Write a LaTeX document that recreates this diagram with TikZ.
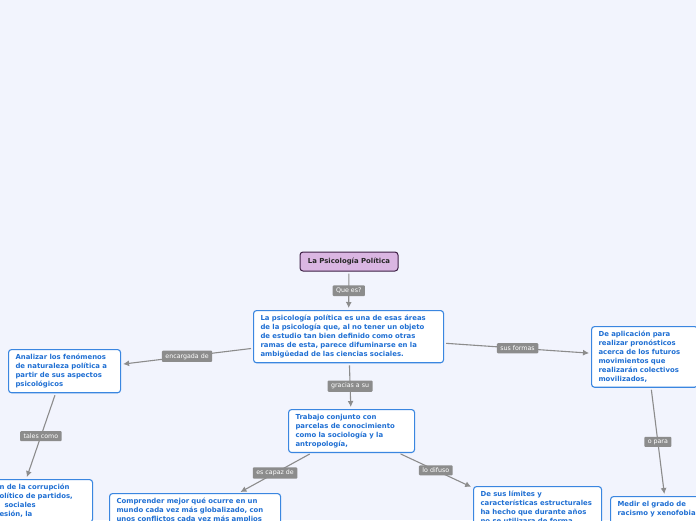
\documentclass[tikz,border=0pt]{standalone}
\usepackage{fontspec}
\usetikzlibrary{arrows.meta}
\newfontfamily\mapfont{DejaVu Sans}
\definecolor{bgblue}{HTML}{F2F4FD}
\definecolor{topicblue}{HTML}{3A86E0}
\definecolor{textblue}{HTML}{1F6FD3}
\definecolor{rootfill}{HTML}{DAB6E2}
\definecolor{rootline}{HTML}{3D1F45}
\definecolor{linkgray}{HTML}{8C8C8C}

\begin{document}
\begin{tikzpicture}[x=1pt,y=-1pt,
  topic/.style={draw=topicblue,fill=white,rounded corners=3pt,line width=1.1pt,
    text=textblue,font=\mapfont\bfseries\fontsize{6.9}{9}\selectfont,
    align=left,inner xsep=7pt,inner ysep=4.6pt,anchor=north west},
  rootbox/.style={draw=rootline,fill=rootfill,rounded corners=3pt,line width=1pt,
    text=black!85,font=\mapfont\bfseries\fontsize{6.9}{9}\selectfont,
    minimum width=98pt,minimum height=19pt},
  link/.style={draw=linkgray,line width=1.1pt,-{Latex[length=6pt,width=6pt]},
    shorten >=2pt,shorten <=2pt},
  tag/.style={fill=linkgray,text=white,font=\mapfont\fontsize{6.3}{7}\selectfont,
    rounded corners=1pt,inner xsep=3.5pt,inner ysep=2.6pt,midway}]
            \useasboundingbox (0,0) rectangle (696,520);
            \clip (0,0) rectangle (696,520);
            \fill[bgblue] (0,0) rectangle (696,520);

            \node[rootbox] (root) at (349,261.5) {La Psicología Política};
            \node[topic,text width=176pt] (main) at (253,310) {La psicología política es una de esas áreas\\de la psicología que, al no tener un objeto\\de estudio tan bien definido como otras\\ramas de esta, parece difuminarse en la\\ambigüedad de las ciencias sociales.};
            \node[topic,text width=98pt] (analizar) at (8,349) {Analizar los fenómenos\\de naturaleza política a\\partir de sus aspectos\\psicológicos};
            \node[topic,text width=112pt] (trabajo) at (288,409) {Trabajo conjunto con\\parcelas de conocimiento\\como la sociología y la\\antropología,};
            \node[topic,text width=92pt] (aplicacion) at (591,326) {De aplicación para\\realizar pronósticos\\acerca de los futuros\\movimientos que\\realizarán colectivos\\movilizados,};
            \node[topic,text width=84pt,inner xsep=9pt] (percepcion) at (-10,479) {n de la corrupción\\olítico de partidos,\\\hspace*{5pt}sociales\\esión, la};
            \node[topic,text width=157pt] (comprender) at (109,493) {Comprender mejor qué ocurre en un\\mundo cada vez más globalizado, con\\unos conflictos cada vez más amplios};
            \node[topic,text width=114pt] (limites) at (473,486) {De sus límites y\\características estructurales\\ha hecho que durante años\\no se utilizara de forma};
            \node[topic,text width=100pt] (medir) at (610,496) {Medir el grado de\\racismo y xenofobia\\\mbox{}};

            \draw[link] (root) -- node[tag]{Que es?} (main);
            \draw[link] (main) -- node[tag]{encargada de} (analizar);
            \draw[link] (main) -- node[tag]{gracias a su} (trabajo);
            \draw[link] (main) -- node[tag]{sus formas} (aplicacion);
            \draw[link] (analizar.248) -- node[tag]{tales como} (percepcion.125);
            \draw[link] (trabajo) -- node[tag]{es capaz de} (comprender.22);
            \draw[link] (trabajo) -- node[tag]{lo difuso} (limites.163);
            \draw[link] (aplicacion.-78) -- node[tag]{o para} (medir.100);
\end{tikzpicture}
\end{document}
